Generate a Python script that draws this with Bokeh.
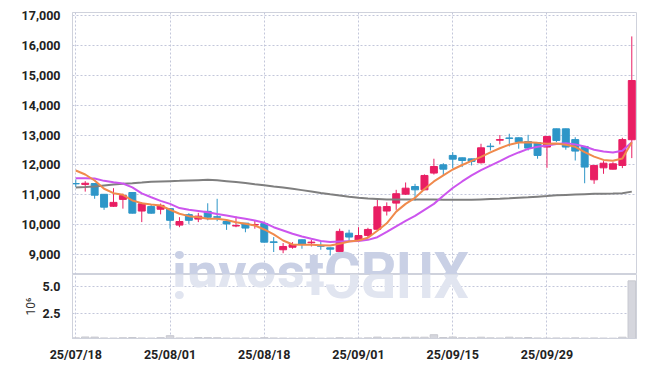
from bokeh.plotting import figure
from bokeh.layouts import column
from bokeh.models import FixedTicker, NumeralTickFormatter, Range1d, ColumnDataSource, Label
from bokeh.embed import file_html
from bokeh.resources import INLINE
import math

# ---- data ----
tick_idx = [0, 10, 20, 30, 40, 50]
tick_labels = ["25/07/18", "25/08/01", "25/08/18", "25/09/01", "25/09/15", "25/09/29"]

open_ = [11380, 11350, 11380, 11020, 10620, 10850, 11080, 10460, 10610, 10520,
         10540, 9990, 10340, 10190, 10450, 10270, 10110, 9960, 10055, 9995,
         10040, 9430, 9165, 9250, 9500, 9400, 9300, 9230, 9110, 9720,
         9480, 9645, 9850, 10460, 10725, 11025, 11280, 11170, 11730, 12005,
         12320, 12240, 12205, 12075, 12630, 12830, 12905, 12910, 12785, 12745,
         12600, 13210, 13210, 12850, 12620, 11505, 11905, 11860, 11985, 12845]
high = [11520, 11460, 11390, 11030, 11225, 11040, 11090, 10760, 10690, 10710,
        10550, 10255, 10390, 10400, 10720, 10870, 10120, 10280, 10060, 10145,
        10050, 9590, 9390, 9420, 9505, 9500, 9480, 9240, 9870, 9835,
        9920, 9900, 10840, 10750, 11170, 11415, 11370, 11685, 12210, 12060,
        12430, 12250, 12210, 12710, 12730, 13000, 13045, 12920, 13010, 12760,
        12960, 13215, 13215, 12930, 12630, 12000, 12130, 12095, 12910, 16300]
low = [11260, 11110, 10870, 10500, 10600, 10540, 10380, 10090, 10370, 10350,
       9870, 9920, 10030, 10090, 10150, 10120, 9830, 9920, 9750, 9870,
       9410, 9090, 9050, 9200, 9200, 9275, 9165, 8975, 9100, 9420,
       9420, 9570, 9830, 10310, 10500, 11000, 10810, 11160, 11680, 11650,
       11895, 11930, 11985, 12050, 12485, 12690, 12620, 12545, 12485, 12210,
       11905, 12765, 12510, 12150, 11390, 11370, 11705, 11850, 11895, 12230]
close = [11370, 11390, 10990, 10590, 10750, 10980, 10390, 10700, 10390, 10650,
         10150, 10110, 10150, 10290, 10250, 10250, 10030, 9975, 9890, 10010,
         9420, 9410, 9275, 9340, 9340, 9420, 9285, 9185, 9780, 9590,
         9640, 9845, 10600, 10610, 11040, 11225, 11170, 11650, 11950, 11860,
         12195, 12150, 12120, 12575, 12615, 12850, 12890, 12765, 12565, 12320,
         12955, 12820, 12600, 12465, 11930, 11985, 12060, 12040, 12850, 14825]
ma_short = [11817, 11683, 11482, 11205, 11058, 11004, 10813, 10724, 10680, 10646,
            10503, 10369, 10290, 10255, 10200, 10200, 10160, 10088, 10034, 9978,
            9844, 9677, 9476, 9342, 9331, 9331, 9320, 9309, 9364, 9442,
            9476, 9566, 9800, 10050, 10440, 10700, 10900, 11200, 11450, 11650,
            11850, 12000, 12140, 12270, 12420, 12560, 12680, 12750, 12760, 12740,
            12710, 12720, 12680, 12610, 12430, 12280, 12170, 12140, 12220, 12763]
ma_mid = [11560, 11560, 11550, 11470, 11420, 11380, 11250, 11050, 10920, 10800,
          10700, 10560, 10500, 10460, 10420, 10360, 10310, 10255, 10200, 10145,
          10067, 9920, 9810, 9700, 9610, 9533, 9460, 9425, 9440, 9450,
          9455, 9497, 9586, 9760, 9950, 10130, 10300, 10500, 10700, 10970,
          11230, 11450, 11650, 11830, 11980, 12130, 12290, 12420, 12540, 12610,
          12654, 12700, 12730, 12690, 12620, 12510, 12450, 12420, 12480, 12760]
ma_long = [11250, 11265, 11282, 11315, 11349, 11370, 11392, 11415, 11439, 11450,
           11460, 11470, 11482, 11494, 11505, 11490, 11460, 11430, 11395, 11355,
           11320, 11282, 11245, 11205, 11160, 11115, 11065, 11020, 10980, 10935,
           10905, 10880, 10865, 10850, 10847, 10847, 10847, 10847, 10845, 10840,
           10838, 10837, 10840, 10850, 10860, 10870, 10885, 10905, 10920, 10940,
           10960, 10985, 11000, 11015, 11025, 11035, 11040, 11045, 11055, 11110]
volume_m = [0.27, 0.35, 0.34, 0.26, 0.25, 0.28, 0.30, 0.26, 0.25, 0.29,
            0.47, 0.26, 0.25, 0.30, 0.29, 0.28, 0.25, 0.25, 0.26, 0.24,
            0.29, 0.26, 0.25, 0.24, 0.25, 0.26, 0.24, 0.25, 0.28, 0.26,
            0.25, 0.27, 0.34, 0.26, 0.28, 0.32, 0.33, 0.33, 0.56, 0.30,
            0.35, 0.28, 0.27, 0.33, 0.27, 0.26, 0.33, 0.27, 0.30, 0.26,
            0.25, 0.26, 0.25, 0.27, 0.25, 0.26, 0.25, 0.24, 0.33, 5.55]

UP = "#e91e63"
DOWN = "#2e96c8"
FONT = "Roboto"
WM = "#c9d0e5"

idx = list(range(len(close)))
colors = [UP if c >= o else DOWN for o, c in zip(open_, close)]
src = ColumnDataSource(dict(
    x=idx, o=open_, h=high, l=low, c=close,
    top=[max(o, c) for o, c in zip(open_, close)],
    bot=[min(o, c) for o, c in zip(open_, close)],
    col=colors,
))

xr = Range1d(-0.35, 59.5)

p = figure(width=644, height=274, x_range=xr, y_range=Range1d(8338, 17100),
           output_backend="svg", toolbar_location=None,
           min_border_left=72, min_border_right=8, min_border_top=12, min_border_bottom=0)
p.xaxis.visible = False
p.outline_line_color = "#cfd2dc"
p.xgrid.ticker = FixedTicker(ticks=tick_idx)
for g in (p.xgrid, p.ygrid):
    g.grid_line_color = "#c3c7da"
    g.grid_line_dash = "2 2"
p.yaxis.ticker = FixedTicker(ticks=[9000, 10000, 11000, 12000, 13000, 14000, 15000, 16000, 17000])
p.yaxis.formatter = NumeralTickFormatter(format="0,0")
p.yaxis.major_tick_line_color = None
p.yaxis.minor_tick_line_color = None
p.yaxis.axis_line_color = "#cfd2dc"
p.yaxis.major_label_text_font = FONT
p.yaxis.major_label_text_font_style = "bold"
p.yaxis.major_label_text_font_size = "12.5px"
p.yaxis.major_label_text_color = "#222222"
p.yaxis.major_label_standoff = 6

# watermark (upright), at the bottom of the price panel
wm = Label(x=320 - 72, y=2, x_units="screen", y_units="screen", text="investCRUX",
           text_font=FONT, text_font_style="bold", text_font_size="56px",
           text_color=WM, text_align="center", text_baseline="alphabetic",
           level="underlay")
p.add_layout(wm)

p.segment(x0="x", y0="l", x1="x", y1="h", color="col", line_width=1, source=src)
p.vbar(x="x", width=0.74, top="top", bottom="bot", fill_color="col",
       line_color="col", line_width=1, source=src)

p.line(idx, ma_long, line_color="#7f7f7f", line_width=2)
p.line(idx, ma_mid, line_color="#cc55ee", line_width=2)
p.line(idx, ma_short, line_color="#f08a4c", line_width=2)

v = figure(width=644, height=94, x_range=xr, y_range=Range1d(0.21, 6.14),
           output_backend="svg", toolbar_location=None,
           min_border_left=72, min_border_right=8, min_border_top=0, min_border_bottom=30)
v.outline_line_color = "#cfd2dc"
v.xgrid.ticker = FixedTicker(ticks=tick_idx)
for g in (v.xgrid, v.ygrid):
    g.grid_line_color = "#c3c7da"
    g.grid_line_dash = "2 2"
# reflection of the watermark
refl = Label(x=320 - 72, y=64 - 2, x_units="screen", y_units="screen", text="XURCtsevni",
             angle=math.pi, text_font=FONT, text_font_style="bold", text_font_size="56px",
             text_color="#e1e5f0", text_align="center", text_baseline="alphabetic",
             level="underlay")
v.add_layout(refl)
v.vbar(x=idx, width=0.8, top=volume_m, bottom=0, fill_color="#d5d6dd", line_color="#c8c9d0")

v.yaxis.ticker = FixedTicker(ticks=[2.5, 5.0])
v.yaxis.formatter = NumeralTickFormatter(format="0.0")
v.yaxis.axis_label = "10⁶"
v.yaxis.axis_label_text_font = FONT
v.yaxis.axis_label_text_font_style = "normal"
v.yaxis.axis_label_text_font_size = "12px"
v.yaxis.axis_label_text_color = "#333333"
v.yaxis.axis_label_standoff = 2
v.xaxis.ticker = FixedTicker(ticks=tick_idx)
v.xaxis.major_label_overrides = {t: s for t, s in zip(tick_idx, tick_labels)}
for ax in (v.xaxis, v.yaxis):
    ax.major_tick_line_color = None
    ax.minor_tick_line_color = None
    ax.axis_line_color = "#cfd2dc"
    ax.major_label_text_font = FONT
    ax.major_label_text_font_style = "bold"
    ax.major_label_text_font_size = "12.5px"
    ax.major_label_text_color = "#222222"
v.yaxis.major_label_standoff = 6
v.xaxis.major_label_standoff = 2

layout = column(p, v, spacing=0)
open("out.html", "w").write(file_html(layout, INLINE))
